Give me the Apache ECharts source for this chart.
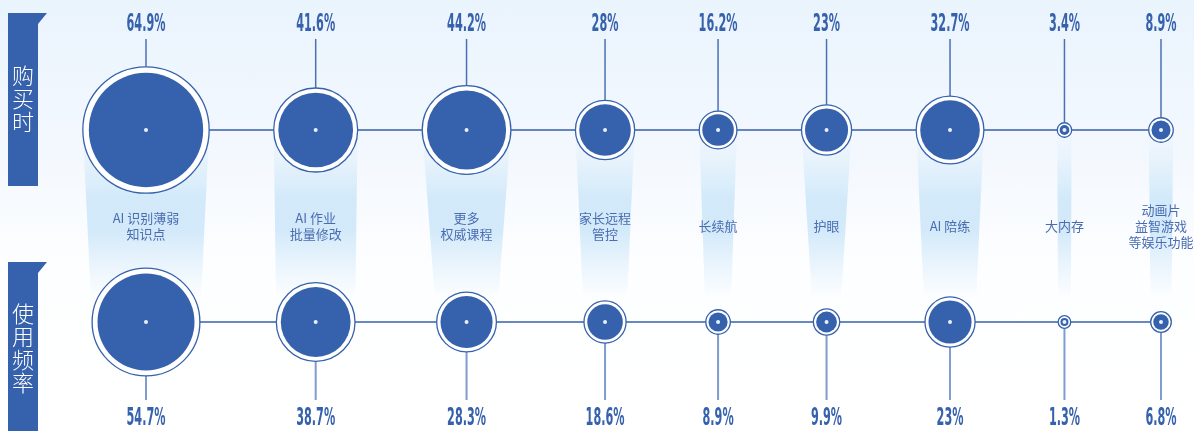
<!DOCTYPE html>
<html>
<head>
<meta charset="utf-8">
<script src="https://cdn.jsdelivr.net/npm/echarts@6/dist/echarts.min.js"></script>
<style>
    html, body { margin: 0; padding: 0; }
    body { background: linear-gradient(180deg, #eaf4fd 0%, #f3f8fe 35%, #fdfeff 62%, #ffffff 100%); }
    #chart { width: 1194px; height: 431px; }
</style>
</head>
<body>
<div id="chart"></div>
<script>
const categories = ['AI 识别薄弱\n知识点', 'AI 作业\n批量修改', '更多\n权威课程', '家长远程\n管控',
                    '长续航', '护眼', 'AI 陪练', '大内存', '动画片\n益智游戏\n等娱乐功能'];
const buyValues  = [64.9, 41.6, 44.2, 28, 16.2, 23, 32.7, 3.4, 8.9];
const useValues  = [54.7, 38.7, 28.3, 18.6, 8.9, 9.9, 23, 1.3, 6.8];
const rowNames   = ['购买时', '使用频率'];

const BLUE    = '#3661ac';
const TOP_Y   = 130, BOT_Y = 322, MID_Y = 226;
const FIRST_X = 146, LAST_X = 1161;
const NUM_FONT = '"Liberation Sans Narrow", "DejaVu Sans Condensed", sans-serif';
const CJK_FONT = '"Noto Sans CJK SC", sans-serif';

// bubble sizes (px) from value
function innerSize(v) { return Math.max(8, 1.7 * v + 4); }
function ringSize(v)  { return innerSize(v) * 1.07 + 4; }

// spread the bubbles so neighbours keep the same gap
const halfW = categories.map((c, i) =>
    Math.max(16, ringSize(buyValues[i]) / 2, ringSize(useValues[i]) / 2));
let pairSum = 0;
for (let i = 1; i < halfW.length; i++) pairSum += halfW[i - 1] + halfW[i];
const gap  = (LAST_X - FIRST_X - pairSum) / (halfW.length - 1);
const xPos = [FIRST_X];
for (let i = 1; i < halfW.length; i++) xPos.push(xPos[i - 1] + halfW[i - 1] + halfW[i] + gap);

const topData = xPos.map((x, i) => [x, TOP_Y, buyValues[i]]);
const botData = xPos.map((x, i) => [x, BOT_Y, useValues[i]]);
const bandData = xPos.map((x, i) => [x, buyValues[i], useValues[i], i]);

document.addEventListener('DOMContentLoaded', () => {

    const chart = echarts.init(document.getElementById('chart'));

    function bubbleSeries(data, z) {
        return [
            { type: 'scatter', data: data, z: z, silent: true,
              symbolSize: (val) => ringSize(val[2]),
              itemStyle: { color: '#ffffff', borderColor: BLUE, borderWidth: 1.3, opacity: 1 } },
            { type: 'scatter', data: data, z: z + 1, silent: true,
              symbolSize: (val) => innerSize(val[2]),
              itemStyle: { color: BLUE, opacity: 1 } },
            { type: 'scatter', data: data, z: z + 2, silent: true,
              symbolSize: 4,
              itemStyle: { color: '#e8f1fb', opacity: 1 } }
        ];
    }

    function leaderSeries(data, isTop) {
        return {
            type: 'custom', data: data, z: 3, silent: true,
            renderItem: (params, api) => {
                const x = api.value(0), v = api.value(2);
                const c = api.coord([x, isTop ? TOP_Y : BOT_Y]);
                const r = ringSize(v) / 2;
                const end = api.coord([x, isTop ? 39 : 400]);
                const txt = api.coord([x, isTop ? 25 : 419]);
                return {
                    type: 'group',
                    children: [
                        { type: 'line',
                          shape: { x1: c[0], y1: end[1], x2: c[0], y2: isTop ? c[1] - r : c[1] + r },
                          style: { stroke: isTop ? '#4b70b6' : '#7f9bd0', lineWidth: isTop ? 1.5 : 2 } },
                        { type: 'text', x: txt[0], y: txt[1], scaleX: 0.52,
                          style: { text: v + '%', fill: BLUE, align: 'center', verticalAlign: 'middle',
                                   fontSize: 24, fontWeight: 'bold', fontFamily: NUM_FONT } }
                    ]
                };
            }
        };
    }

    const option = {
        animation: false,
        grid:  { left: 0, right: 0, top: 0, bottom: 0 },
        xAxis: { type: 'value', min: 0, max: 1194, show: false },
        yAxis: { type: 'value', min: 0, max: 431, inverse: true, show: false },
        graphic: [
            { type: 'polygon', shape: { points: [[8, 13], [47, 13], [38, 24], [38, 186], [8, 186]] },
              style: { fill: BLUE } },
            { type: 'text', x: 23, y: 99,
              style: { text: rowNames[0].split('').join('\n'), fill: '#ffffff', fontSize: 22, lineHeight: 23,
                       align: 'center', verticalAlign: 'middle', fontFamily: CJK_FONT, fontWeight: 300 } },
            { type: 'polygon', shape: { points: [[8, 262], [47, 262], [38, 273], [38, 431], [8, 431]] },
              style: { fill: BLUE } },
            { type: 'text', x: 23, y: 348,
              style: { text: rowNames[1].split('').join('\n'), fill: '#ffffff', fontSize: 22, lineHeight: 23,
                       align: 'center', verticalAlign: 'middle', fontFamily: CJK_FONT, fontWeight: 300 } }
        ],
        series: [
            // light bands between the two rows
            {
                type: 'custom', data: bandData, z: 1, silent: true,
                renderItem: (params, api) => {
                    const x = api.value(0);
                    const rt = ringSize(api.value(1)) / 2, rb = ringSize(api.value(2)) / 2;
                    const t = api.coord([x, TOP_Y]), b = api.coord([x, BOT_Y]);
                    return {
                        type: 'polygon',
                        shape: { points: [[t[0] - rt, t[1]], [t[0] + rt, t[1]], [b[0] + rb, b[1]], [b[0] - rb, b[1]]] },
                        style: {
                            fill: new echarts.graphic.LinearGradient(0, 0, 0, 1, [
                                { offset: 0,    color: 'rgba(206,231,249,0)' },
                                { offset: 0.15, color: 'rgba(206,231,249,0.3)' },
                                { offset: 0.35, color: 'rgba(206,231,249,0.9)' },
                                { offset: 0.52, color: 'rgba(206,231,249,0.9)' },
                                { offset: 0.7,  color: 'rgba(206,231,249,0.4)' },
                                { offset: 0.88, color: 'rgba(206,231,249,0)' },
                                { offset: 1,    color: 'rgba(206,231,249,0)' }
                            ])
                        }
                    };
                }
            },
            { type: 'line', data: topData.map(d => [d[0], d[1]]), z: 2, symbol: 'none', silent: true,
              lineStyle: { color: BLUE, width: 1.5 } },
            { type: 'line', data: botData.map(d => [d[0], d[1]]), z: 2, symbol: 'none', silent: true,
              lineStyle: { color: BLUE, width: 1.5 } },
            leaderSeries(topData, true),
            leaderSeries(botData, false),
            ...bubbleSeries(topData, 4),
            ...bubbleSeries(botData, 4),
            // category names
            {
                type: 'custom', data: bandData, z: 3, silent: true,
                renderItem: (params, api) => {
                    const c = api.coord([api.value(0), MID_Y]);
                    return { type: 'text', x: c[0], y: c[1],
                             style: { text: categories[api.value(3)], fill: '#4a6db1', fontSize: 13, lineHeight: 16,
                                      align: 'center', verticalAlign: 'middle', fontFamily: CJK_FONT } };
                }
            }
        ]
    };

    chart.setOption(option);
});
</script>
</body>
</html>
